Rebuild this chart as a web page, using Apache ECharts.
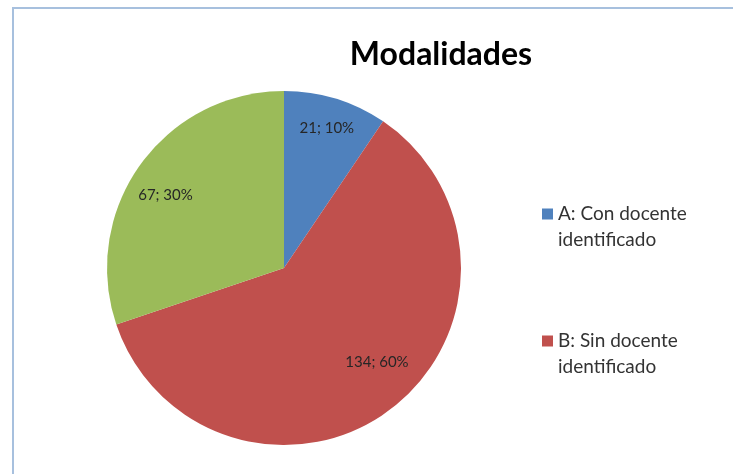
<!DOCTYPE html>
<html>
<head>
<meta charset="utf-8">
<script src="https://cdn.jsdelivr.net/npm/echarts@6/dist/echarts.min.js"></script>
<style>
    html, body { margin: 0; padding: 0; background: #fff; }
    #chart { width: 733px; height: 474px; }
</style>
</head>
<body>
<div id="chart"></div>
<script>
// datos
var categories = ['A: Con docente identificado', 'B: Sin docente identificado', 'C'];
var values = [21, 134, 67];
var legendItems = ['A: Con docente identificado', 'B: Sin docente identificado'];

var colors = ['#4F81BD', '#C0504D', '#9BBB59'];
var labelDist = [0.826, 0.747, 0.786];   // radio de la etiqueta / radio
var labelShift = [0, -7.4, -4.1];        // desplazamiento angular (grados)

var center = [284, 268];
var radius = 177;

var chart = echarts.init(document.getElementById('chart'));

function labelPos(i) {
    var total = values.reduce(function (a, b) { return a + b; }, 0);
    var before = 0;
    for (var k = 0; k < i; k++) before += values[k];
    var mid = (before + values[i] / 2) / total * 360 + labelShift[i];
    var a = mid * Math.PI / 180;
    var r = labelDist[i] * radius;
    return [center[0] + r * Math.sin(a), center[1] - r * Math.cos(a)];
}

var option = {
    animation: false,
    title: {
        text: 'Modalidades',
        left: 436,
        textAlign: 'center',
        top: 34,
        textStyle: {
            fontFamily: 'Lato',
            fontSize: 32,
            fontWeight: 'bold',
            color: '#000'
        }
    },
    legend: {
        data: legendItems,
        orient: 'vertical',
        left: 537,
        top: 170,
        itemWidth: 11,
        itemHeight: 11,
        itemGap: 49,
        icon: 'rect',
        formatter: function (name) {
            return '\n' + name.replace(' docente ', ' docente\n');
        },
        textStyle: {
            fontFamily: 'Lato',
            fontSize: 19,
            color: '#333',
            lineHeight: 26
        }
    },
    graphic: [{
        type: 'polyline',
        shape: { points: [[13, 474], [13, 8], [733, 8]] },
        style: { stroke: '#A7C0DE', lineWidth: 2, fill: null }
    }],
    series: [{
        type: 'pie',
        center: center,
        radius: radius,
        startAngle: 90,
        clockwise: true,
        percentPrecision: 0,
        color: colors,
        label: {
            position: 'inside',
            formatter: '{c}; {d}%',
            fontFamily: 'Lato',
            fontSize: 15,
            color: '#262626'
        },
        labelLine: { show: false },
        itemStyle: { borderWidth: 0 },
        emphasis: { disabled: true },
        labelLayout: function (params) {
            var p = labelPos(params.dataIndex);
            return { x: p[0], y: p[1], align: 'center', verticalAlign: 'middle' };
        },
        data: categories.map(function (c, i) {
            return { name: c, value: values[i] };
        })
    }]
};

chart.setOption(option);
</script>
</body>
</html>
